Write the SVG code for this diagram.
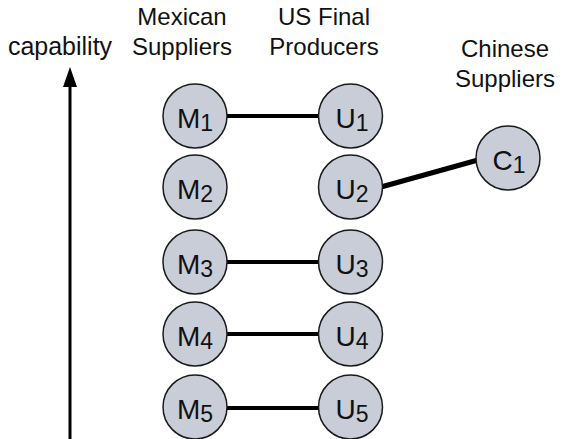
<svg xmlns="http://www.w3.org/2000/svg" width="562" height="439" viewBox="0 0 562 439">
<style>
text{font-family:"Liberation Sans",Arial,sans-serif;fill:#111}
.hdr{font-size:24px;text-anchor:middle}
.nd circle{fill:#c8cdd8;stroke:#1a1a1a;stroke-width:1.5}
.nd text{font-size:28px;text-anchor:middle}
.sub{font-size:23px}
.edge{stroke:#000;stroke-width:4;fill:none}
</style>
<text class="hdr" x="60" y="55" style="font-size:25px">capability</text>
<text class="hdr" x="182" y="25">Mexican</text>
<text class="hdr" x="182" y="55">Suppliers</text>
<text class="hdr" x="324" y="25">US Final</text>
<text class="hdr" x="324" y="55">Producers</text>
<text class="hdr" x="505" y="57">Chinese</text>
<text class="hdr" x="505" y="87">Suppliers</text>
<line x1="70" y1="439" x2="70" y2="86" stroke="#000" stroke-width="3"/>
<path d="M63,87 L70,67 L77,87 Z" fill="#000"/>
<g id="connectors">
<line class="edge" x1="227" y1="116" x2="319" y2="116"/>
<line class="edge" x1="381" y1="187" x2="478" y2="160" style="stroke-width:5"/>
<line class="edge" x1="227" y1="262" x2="319" y2="262"/>
<line class="edge" x1="227" y1="334" x2="319" y2="334"/>
<line class="edge" x1="227" y1="408" x2="319" y2="408"/>
</g>
<g id="M1" class="nd"><circle cx="195" cy="116" r="32"/><text x="195" y="128">M<tspan class="sub" dy="3">1</tspan></text></g>
<g id="M2" class="nd"><circle cx="195" cy="187" r="32"/><text x="195" y="199">M<tspan class="sub" dy="3">2</tspan></text></g>
<g id="M3" class="nd"><circle cx="195" cy="262" r="32"/><text x="195" y="274">M<tspan class="sub" dy="3">3</tspan></text></g>
<g id="M4" class="nd"><circle cx="195" cy="334" r="32"/><text x="195" y="346">M<tspan class="sub" dy="3">4</tspan></text></g>
<g id="M5" class="nd"><circle cx="195" cy="407" r="32"/><text x="195" y="419">M<tspan class="sub" dy="3">5</tspan></text></g>
<g id="U1" class="nd"><circle cx="350.5" cy="116" r="32"/><text x="352" y="128">U<tspan class="sub" dy="3">1</tspan></text></g>
<g id="U2" class="nd"><circle cx="350.5" cy="187" r="32"/><text x="352" y="199">U<tspan class="sub" dy="3">2</tspan></text></g>
<g id="U3" class="nd"><circle cx="350.5" cy="262" r="32"/><text x="352" y="274">U<tspan class="sub" dy="3">3</tspan></text></g>
<g id="U4" class="nd"><circle cx="350.5" cy="334" r="32"/><text x="352" y="346">U<tspan class="sub" dy="3">4</tspan></text></g>
<g id="U5" class="nd"><circle cx="350.5" cy="407" r="32"/><text x="352" y="419">U<tspan class="sub" dy="3">5</tspan></text></g>
<g id="C1" class="nd"><circle cx="508" cy="158" r="32"/><text x="509" y="170">C<tspan class="sub" dy="3">1</tspan></text></g>
</svg>
